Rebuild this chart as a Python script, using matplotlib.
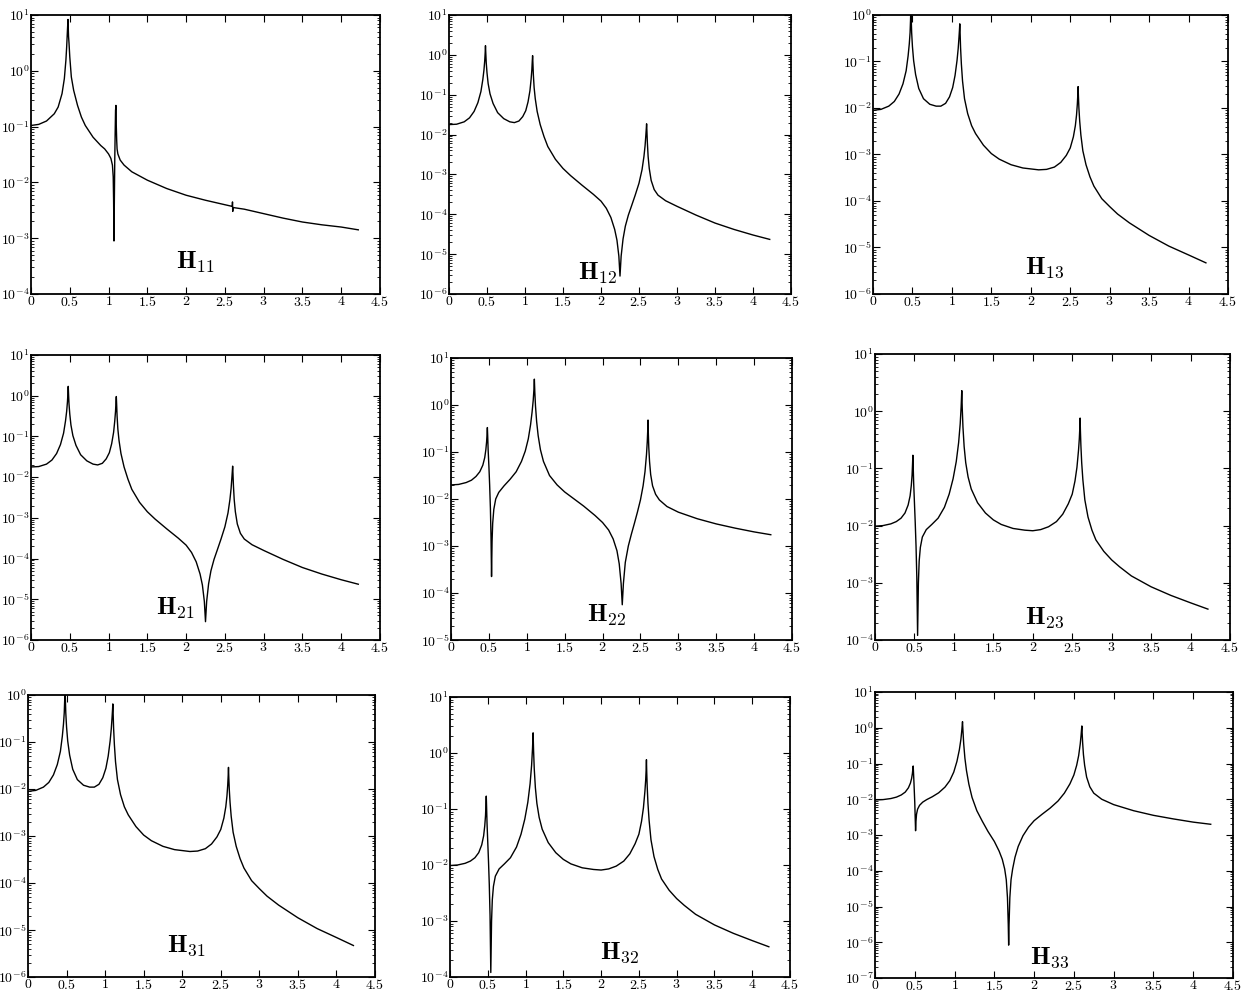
import numpy as np
import matplotlib
matplotlib.use("Agg")
import matplotlib.pyplot as plt
from matplotlib.ticker import FixedLocator, FuncFormatter, LogLocator, NullFormatter

plt.rcParams['mathtext.fontset'] = 'cm'
plt.rcParams['font.family'] = 'serif'
plt.rcParams['font.serif'] = ['cmr10', 'DejaVu Serif']
plt.rcParams['axes.unicode_minus'] = False

# ---------------- data: frequency and log10 of |H| ----------------
h11_x = [0, 0.1, 0.2, 0.3, 0.35, 0.4, 0.43, 0.45, 0.46, 0.47, 0.477, 0.484, 0.49, 0.5, 0.52,
         0.55, 0.6, 0.65, 0.7, 0.8, 0.9, 0.95, 1.0, 1.03, 1.05, 1.06, 1.065, 1.07, 1.075, 1.08,
         1.085, 1.09, 1.095, 1.1, 1.105, 1.11, 1.12, 1.15, 1.2, 1.3, 1.5, 1.75, 2.0, 2.25, 2.5,
         2.595, 2.598, 2.601, 2.605, 2.75, 3.0, 3.25, 3.5, 3.75, 4.0, 4.22]
h11_y = [-0.98, -0.96, -0.90, -0.77, -0.65, -0.41, -0.14, 0.19, 0.43, 0.73, 0.92, 0.62, 0.50, 0.25, -0.11,
         -0.35, -0.62, -0.83, -0.98, -1.19, -1.34, -1.40, -1.49, -1.57, -1.69, -1.90, -2.32, -3.05, -2.30, -1.60,
         -1.13, -0.71, -0.62, -1.0, -1.25, -1.40, -1.49, -1.60, -1.69, -1.81, -1.96, -2.11, -2.23, -2.32, -2.40,
         -2.43, -2.35, -2.52, -2.45, -2.48, -2.56, -2.64, -2.71, -2.76, -2.80, -2.85]

h12_x = [0, 0.1, 0.2, 0.27, 0.33, 0.38, 0.42, 0.445, 0.46, 0.47, 0.476, 0.48, 0.484, 0.49, 0.5, 0.515,
         0.54, 0.58, 0.64, 0.72, 0.8, 0.86, 0.92, 0.97, 1.01, 1.04, 1.065, 1.08, 1.09, 1.096, 1.1, 1.104,
         1.11, 1.12, 1.135, 1.16, 1.2, 1.25, 1.3, 1.4, 1.5, 1.6, 1.75, 1.9, 2.0, 2.07, 2.13, 2.18,
         2.21, 2.235, 2.25, 2.265, 2.29, 2.32, 2.36, 2.4, 2.45, 2.5, 2.54, 2.565, 2.58, 2.59, 2.596, 2.6,
         2.604, 2.61, 2.62, 2.635, 2.66, 2.7, 2.75, 2.85, 3.0, 3.25, 3.5, 3.75, 4.0, 4.22]
h12_y = [-1.75, -1.74, -1.68, -1.58, -1.42, -1.20, -0.92, -0.62, -0.38, -0.15, 0.05, 0.23, 0.05, -0.20, -0.45, -0.72,
         -0.98, -1.22, -1.45, -1.60, -1.68, -1.70, -1.66, -1.55, -1.40, -1.18, -0.90, -0.62, -0.38, -0.15, -0.02, -0.20,
         -0.50, -0.82, -1.10, -1.42, -1.75, -2.05, -2.30, -2.62, -2.85, -3.03, -3.27, -3.50, -3.67, -3.85, -4.08, -4.38,
         -4.65, -5.05, -5.55, -5.05, -4.62, -4.30, -4.02, -3.80, -3.52, -3.22, -2.88, -2.55, -2.28, -2.02, -1.85, -1.73,
         -1.90, -2.20, -2.55, -2.85, -3.15, -3.38, -3.52, -3.66, -3.80, -4.02, -4.22, -4.38, -4.52, -4.63]

h13_x = [0, 0.1, 0.2, 0.27, 0.33, 0.38, 0.42, 0.445, 0.46, 0.47, 0.476, 0.48, 0.484, 0.49, 0.5, 0.515,
         0.54, 0.58, 0.64, 0.72, 0.8, 0.86, 0.92, 0.97, 1.01, 1.04, 1.065, 1.08, 1.09, 1.096, 1.1, 1.104,
         1.11, 1.12, 1.135, 1.16, 1.2, 1.25, 1.3, 1.4, 1.5, 1.6, 1.75, 1.9, 2.0, 2.1, 2.2, 2.3,
         2.38, 2.45, 2.5, 2.54, 2.565, 2.58, 2.59, 2.596, 2.6, 2.604, 2.61, 2.62, 2.635, 2.66, 2.7, 2.75,
         2.8, 2.9, 3.0, 3.1, 3.25, 3.5, 3.75, 4.0, 4.22]
h13_y = [-2.05, -2.03, -1.96, -1.86, -1.70, -1.48, -1.20, -0.88, -0.62, -0.38, -0.10, 0.20, -0.05, -0.38, -0.68, -0.98,
         -1.28, -1.58, -1.80, -1.92, -1.96, -1.96, -1.90, -1.76, -1.56, -1.30, -0.98, -0.72, -0.48, -0.32, -0.19, -0.38,
         -0.70, -1.05, -1.42, -1.80, -2.12, -2.38, -2.55, -2.80, -2.98, -3.10, -3.22, -3.29, -3.31, -3.33, -3.32, -3.27,
         -3.17, -3.02, -2.86, -2.62, -2.38, -2.15, -1.92, -1.72, -1.54, -1.75, -2.00, -2.28, -2.58, -2.92, -3.22, -3.48,
         -3.68, -3.95, -4.12, -4.28, -4.47, -4.74, -4.97, -5.16, -5.33]

h21_x = list(h12_x)
h21_y = list(h12_y)

h22_x = [0, 0.1, 0.2, 0.27, 0.33, 0.38, 0.42, 0.445, 0.46, 0.47, 0.476, 0.48, 0.484, 0.49, 0.5, 0.51,
         0.52, 0.528, 0.535, 0.542, 0.55, 0.565, 0.59, 0.63, 0.7, 0.78, 0.86, 0.93, 0.98, 1.02, 1.05, 1.07,
         1.085, 1.094, 1.1, 1.106, 1.115, 1.13, 1.15, 1.18, 1.22, 1.3, 1.4, 1.5, 1.6, 1.75, 1.9, 2.0,
         2.08, 2.14, 2.19, 2.22, 2.245, 2.26, 2.275, 2.3, 2.34, 2.38, 2.42, 2.46, 2.5, 2.535, 2.56, 2.58,
         2.59, 2.596, 2.6, 2.604, 2.61, 2.62, 2.635, 2.66, 2.7, 2.75, 2.85, 3.0, 3.25, 3.5, 3.75, 4.0,
         4.22]
h22_y = [-1.70, -1.69, -1.65, -1.60, -1.52, -1.42, -1.28, -1.12, -0.95, -0.78, -0.62, -0.48, -0.65, -0.95, -1.30, -1.70,
         -2.20, -2.80, -3.65, -2.90, -2.52, -2.22, -2.00, -1.86, -1.72, -1.58, -1.42, -1.20, -0.98, -0.72, -0.42, -0.15,
         0.10, 0.32, 0.55, 0.28, -0.02, -0.35, -0.65, -0.95, -1.20, -1.50, -1.70, -1.85, -1.97, -2.15, -2.35, -2.50,
         -2.66, -2.85, -3.10, -3.38, -3.80, -4.25, -3.80, -3.35, -3.00, -2.75, -2.52, -2.28, -2.02, -1.72, -1.42, -1.05,
         -0.78, -0.55, -0.32, -0.60, -0.90, -1.20, -1.48, -1.72, -1.90, -2.02, -2.16, -2.28, -2.42, -2.53, -2.62, -2.70,
         -2.76]

h23_x = [0, 0.1, 0.2, 0.27, 0.33, 0.38, 0.42, 0.445, 0.46, 0.47, 0.476, 0.48, 0.484, 0.49, 0.5, 0.51,
         0.52, 0.53, 0.54, 0.55, 0.56, 0.575, 0.6, 0.65, 0.72, 0.8, 0.88, 0.94, 0.99, 1.03, 1.06, 1.08,
         1.092, 1.1, 1.106, 1.115, 1.13, 1.15, 1.18, 1.22, 1.3, 1.4, 1.5, 1.6, 1.75, 1.9, 2.0, 2.1,
         2.2, 2.3, 2.38, 2.45, 2.5, 2.535, 2.56, 2.58, 2.59, 2.596, 2.6, 2.604, 2.61, 2.62, 2.635, 2.66,
         2.7, 2.75, 2.8, 2.9, 3.0, 3.1, 3.25, 3.5, 3.75, 4.0, 4.22]
h23_y = [-2.01, -2.00, -1.97, -1.93, -1.87, -1.78, -1.64, -1.48, -1.30, -1.12, -0.92, -0.77, -0.95, -1.25, -1.60, -1.95,
         -2.35, -2.90, -3.92, -3.00, -2.62, -2.38, -2.20, -2.07, -1.98, -1.87, -1.68, -1.45, -1.18, -0.88, -0.55, -0.22,
         0.08, 0.36, 0.05, -0.28, -0.62, -0.90, -1.15, -1.36, -1.60, -1.78, -1.90, -1.98, -2.05, -2.08, -2.09, -2.07,
         -2.02, -1.93, -1.80, -1.62, -1.45, -1.22, -0.98, -0.68, -0.48, -0.30, -0.12, -0.35, -0.60, -0.90, -1.20, -1.55,
         -1.85, -2.08, -2.25, -2.45, -2.60, -2.72, -2.88, -3.07, -3.22, -3.35, -3.46]

h31_x = list(h13_x)
h31_y = list(h13_y)

h32_x = list(h23_x)
h32_y = list(h23_y)

h33_x = [0, 0.1, 0.2, 0.27, 0.33, 0.38, 0.42, 0.445, 0.46, 0.47, 0.476, 0.48, 0.484, 0.49, 0.5, 0.505,
         0.51, 0.515, 0.522, 0.535, 0.56, 0.6, 0.65, 0.72, 0.8, 0.88, 0.94, 0.99, 1.03, 1.06, 1.08, 1.092,
         1.1, 1.106, 1.115, 1.13, 1.15, 1.18, 1.22, 1.28, 1.35, 1.42, 1.5, 1.56, 1.6, 1.63, 1.65, 1.665,
         1.675, 1.68, 1.685, 1.695, 1.71, 1.73, 1.76, 1.8, 1.86, 1.93, 2.0, 2.1, 2.2, 2.3, 2.38, 2.45,
         2.5, 2.535, 2.56, 2.58, 2.59, 2.596, 2.6, 2.604, 2.61, 2.62, 2.635, 2.66, 2.7, 2.75, 2.85, 3.0,
         3.25, 3.5, 3.75, 4.0, 4.22]
h33_y = [-2.02, -2.01, -1.98, -1.94, -1.88, -1.80, -1.68, -1.55, -1.42, -1.28, -1.15, -1.07, -1.25, -1.55, -2.10, -2.50,
         -2.88, -2.62, -2.42, -2.28, -2.17, -2.08, -2.01, -1.93, -1.82, -1.66, -1.48, -1.24, -0.94, -0.62, -0.32, -0.05,
         0.17, -0.10, -0.45, -0.85, -1.20, -1.58, -1.95, -2.32, -2.62, -2.90, -3.18, -3.45, -3.68, -3.95, -4.25, -4.75,
         -5.50, -6.08, -5.50, -4.75, -4.25, -3.95, -3.62, -3.32, -3.02, -2.78, -2.60, -2.42, -2.25, -2.05, -1.83, -1.57,
         -1.32, -1.05, -0.78, -0.45, -0.22, -0.05, 0.05, -0.15, -0.42, -0.75, -1.05, -1.38, -1.65, -1.83, -2.00, -2.15,
         -2.32, -2.45, -2.55, -2.64, -2.70]

labels = ['11', '12', '13', '21', '22', '23', '31', '32', '33']
y_lo = [-4, -6, -6, -6, -5, -4, -6, -4, -7]
y_hi = [1, 1, 0, 1, 1, 1, 0, 1, 1]
x_ticks = [0, 0.5, 1, 1.5, 2, 2.5, 3, 3.5, 4, 4.5]

series = [(h11_x, h11_y), (h12_x, h12_y), (h13_x, h13_y),
          (h21_x, h21_y), (h22_x, h22_y), (h23_x, h23_y),
          (h31_x, h31_y), (h32_x, h32_y), (h33_x, h33_y)]

# ---------------- layout (pixel boxes) ----------------
W, H = 1247, 996
boxes = [(31, 15, 380, 294), (449, 15, 791, 294), (873, 15, 1228, 294),
         (31, 355, 380, 640), (451, 358, 792, 640), (875, 354, 1230, 640),
         (28, 695, 375, 977), (450, 697, 790, 977), (875, 692, 1233, 978)]
label_pos = [(195, 262), (598, 273), (1045, 268),
             (175, 608), (607, 615), (1045, 618),
             (186, 946), (620, 953), (1050, 958)]

fig = plt.figure(figsize=(W / 100, H / 100), dpi=100)


def xfmt(v, pos):
    return r'$%s$' % ('%g' % v)


def yfmt(v, pos):
    return r'$10^{%d}$' % int(round(np.log10(v)))


for i, (bx, (xs, ys)) in enumerate(zip(boxes, series)):
    l, t, r, b = bx
    ax = fig.add_axes([l / W, 1 - b / H, (r - l) / W, (b - t) / H])
    ax.semilogy(xs, 10.0 ** np.array(ys), color='black', lw=1.0)
    ax.set_xlim(0, 4.5)
    ax.set_ylim(10.0 ** y_lo[i], 10.0 ** y_hi[i])
    ax.xaxis.set_major_locator(FixedLocator(x_ticks))
    ax.xaxis.set_major_formatter(FuncFormatter(xfmt))
    ax.yaxis.set_major_locator(LogLocator(base=10, numticks=20))
    ax.yaxis.set_minor_locator(LogLocator(base=10, subs=np.arange(2, 10), numticks=20))
    ax.yaxis.set_major_formatter(FuncFormatter(yfmt))
    ax.yaxis.set_minor_formatter(NullFormatter())
    ax.tick_params(which='both', direction='in', top=True, right=True, labelsize=10)
    ax.tick_params(axis='y', pad=1)
    ax.tick_params(axis='x', pad=1)
    ax.tick_params(which='major', length=5, width=0.8)
    ax.tick_params(which='minor', length=2.5, width=0.6)
    for sp in ax.spines.values():
        sp.set_linewidth(1.3)
    lx, ly = label_pos[i]
    fx = (lx - l) / (r - l)
    fy = (b - ly) / (b - t)
    ax.text(fx, fy, r'$\mathbf{H}_{%s}$' % labels[i], transform=ax.transAxes,
            ha='center', va='center', fontsize=18)

fig.savefig('out.png', dpi=100)
